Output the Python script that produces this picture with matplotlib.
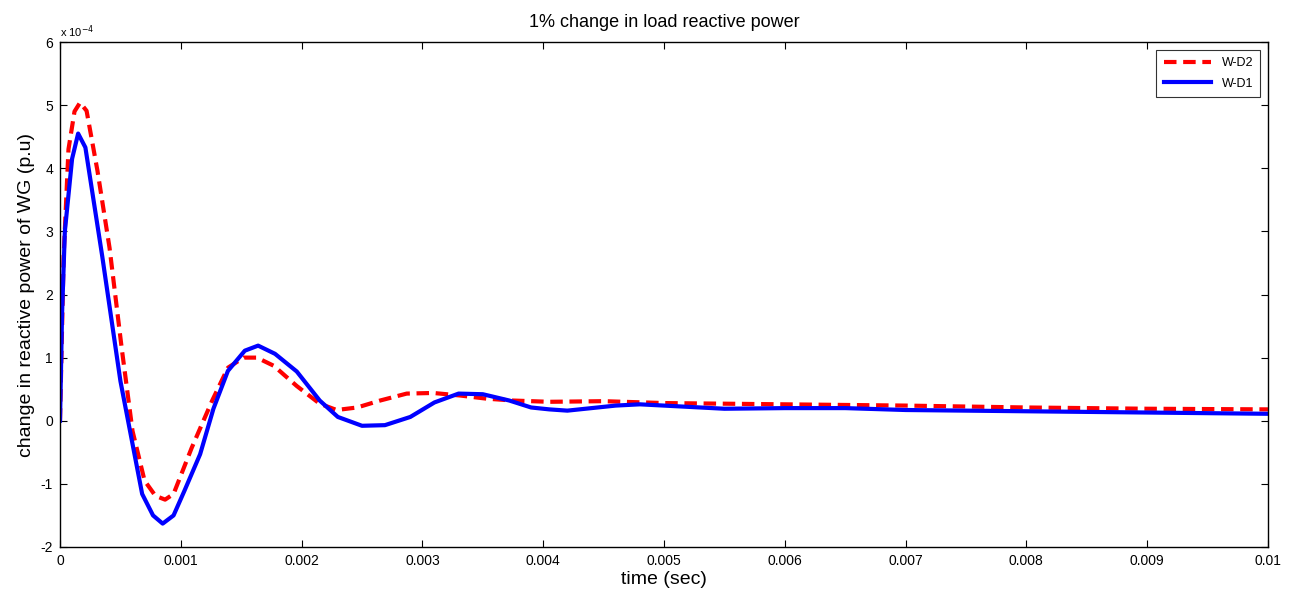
import numpy as np
import matplotlib.pyplot as plt

plt.rcParams['font.family'] = ['Liberation Sans', 'DejaVu Sans']
plt.rcParams['axes.unicode_minus'] = False

# time (sec) and response in units of 1e-4 p.u.
t_d2 = [0, 0.00003, 0.00007, 0.00012, 0.000166, 0.00022, 0.00031, 0.00041, 0.00051, 0.0006,
        0.0007, 0.00079, 0.00087, 0.00094, 0.00109, 0.00126, 0.00139, 0.00152,
        0.00163, 0.00177, 0.00196, 0.00215, 0.00229, 0.00246, 0.00265, 0.00287,
        0.00309, 0.00331, 0.00353, 0.00375, 0.00405, 0.0045, 0.005, 0.006, 0.007,
        0.008, 0.009, 0.01]
wd2 = [0, 2.6, 4.3, 4.9, 5.04, 4.91, 3.96, 2.74, 1.16, -0.16,
       -0.95, -1.19, -1.25, -1.16, -0.43, 0.32, 0.84, 1.0,
       1.0, 0.87, 0.55, 0.27, 0.17, 0.21, 0.32, 0.43,
       0.44, 0.40, 0.35, 0.32, 0.30, 0.31, 0.28, 0.26, 0.24,
       0.21, 0.19, 0.18]

t_d1 = [0, 0.000017, 0.00004, 0.0001, 0.00015, 0.00021, 0.00035, 0.0005, 0.00068,
        0.00077, 0.00085, 0.00094, 0.00103, 0.00116, 0.00127, 0.00139, 0.00153,
        0.00164, 0.00178, 0.00196, 0.00215, 0.0023, 0.0025, 0.00269, 0.0029,
        0.0031, 0.0033, 0.0035, 0.00372, 0.0039, 0.00405, 0.0042, 0.0046, 0.0048,
        0.0052, 0.0055, 0.006, 0.0065, 0.007, 0.008, 0.009, 0.01]
wd1 = [0, 1.7, 3.0, 4.15, 4.55, 4.33, 2.6, 0.63, -1.16,
       -1.5, -1.63, -1.5, -1.11, -0.53, 0.19, 0.79, 1.11,
       1.19, 1.06, 0.78, 0.32, 0.06, -0.08, -0.07, 0.06,
       0.29, 0.43, 0.42, 0.32, 0.21, 0.18, 0.16, 0.24, 0.26,
       0.22, 0.19, 0.20, 0.20, 0.17, 0.15, 0.13, 0.11]

fig = plt.figure(figsize=(12.99, 5.97), dpi=100)
ax = fig.add_axes([0.0462, 0.0838, 0.9299, 0.8458])

ax.plot(t_d2, wd2, color='#ff0000', linestyle='--', linewidth=3, dashes=(3, 1.6), label='W-D2')
ax.plot(t_d1, wd1, color='#0000ff', linestyle='-', linewidth=3, label='W-D1')

ax.set_xlim(0, 0.01)
ax.set_ylim(-2, 6)
ax.set_xticks(np.arange(0, 0.0101, 0.001))
ax.set_xticklabels(['0'] + ['%.3f' % v for v in np.arange(0.001, 0.0101, 0.001)][:-1] + ['0.01'])
ax.set_yticks(range(-2, 7))
ax.tick_params(direction='in', top=True, right=True, labelsize=10, length=5, width=0.8, pad=5)
for s in ax.spines.values():
    s.set_linewidth(1.0)

ax.text(0.0, 1.005, r'x 10$^{-4}$', transform=ax.transAxes, fontsize=8, va='bottom', ha='left')
ax.set_title('1% change in load reactive power', fontsize=13, pad=11)
ax.set_xlabel('time (sec)', fontsize=14, labelpad=2)
ax.set_ylabel('change in reactive power of WG (p.u)', fontsize=14, labelpad=4)

leg = ax.legend(loc='upper right', fontsize=9, frameon=True, fancybox=False,
                edgecolor='black', handlelength=3.8, labelspacing=0.7,
                borderaxespad=0.6, borderpad=0.6)
leg.get_frame().set_linewidth(0.8)

fig.savefig('out.png', dpi=100)
